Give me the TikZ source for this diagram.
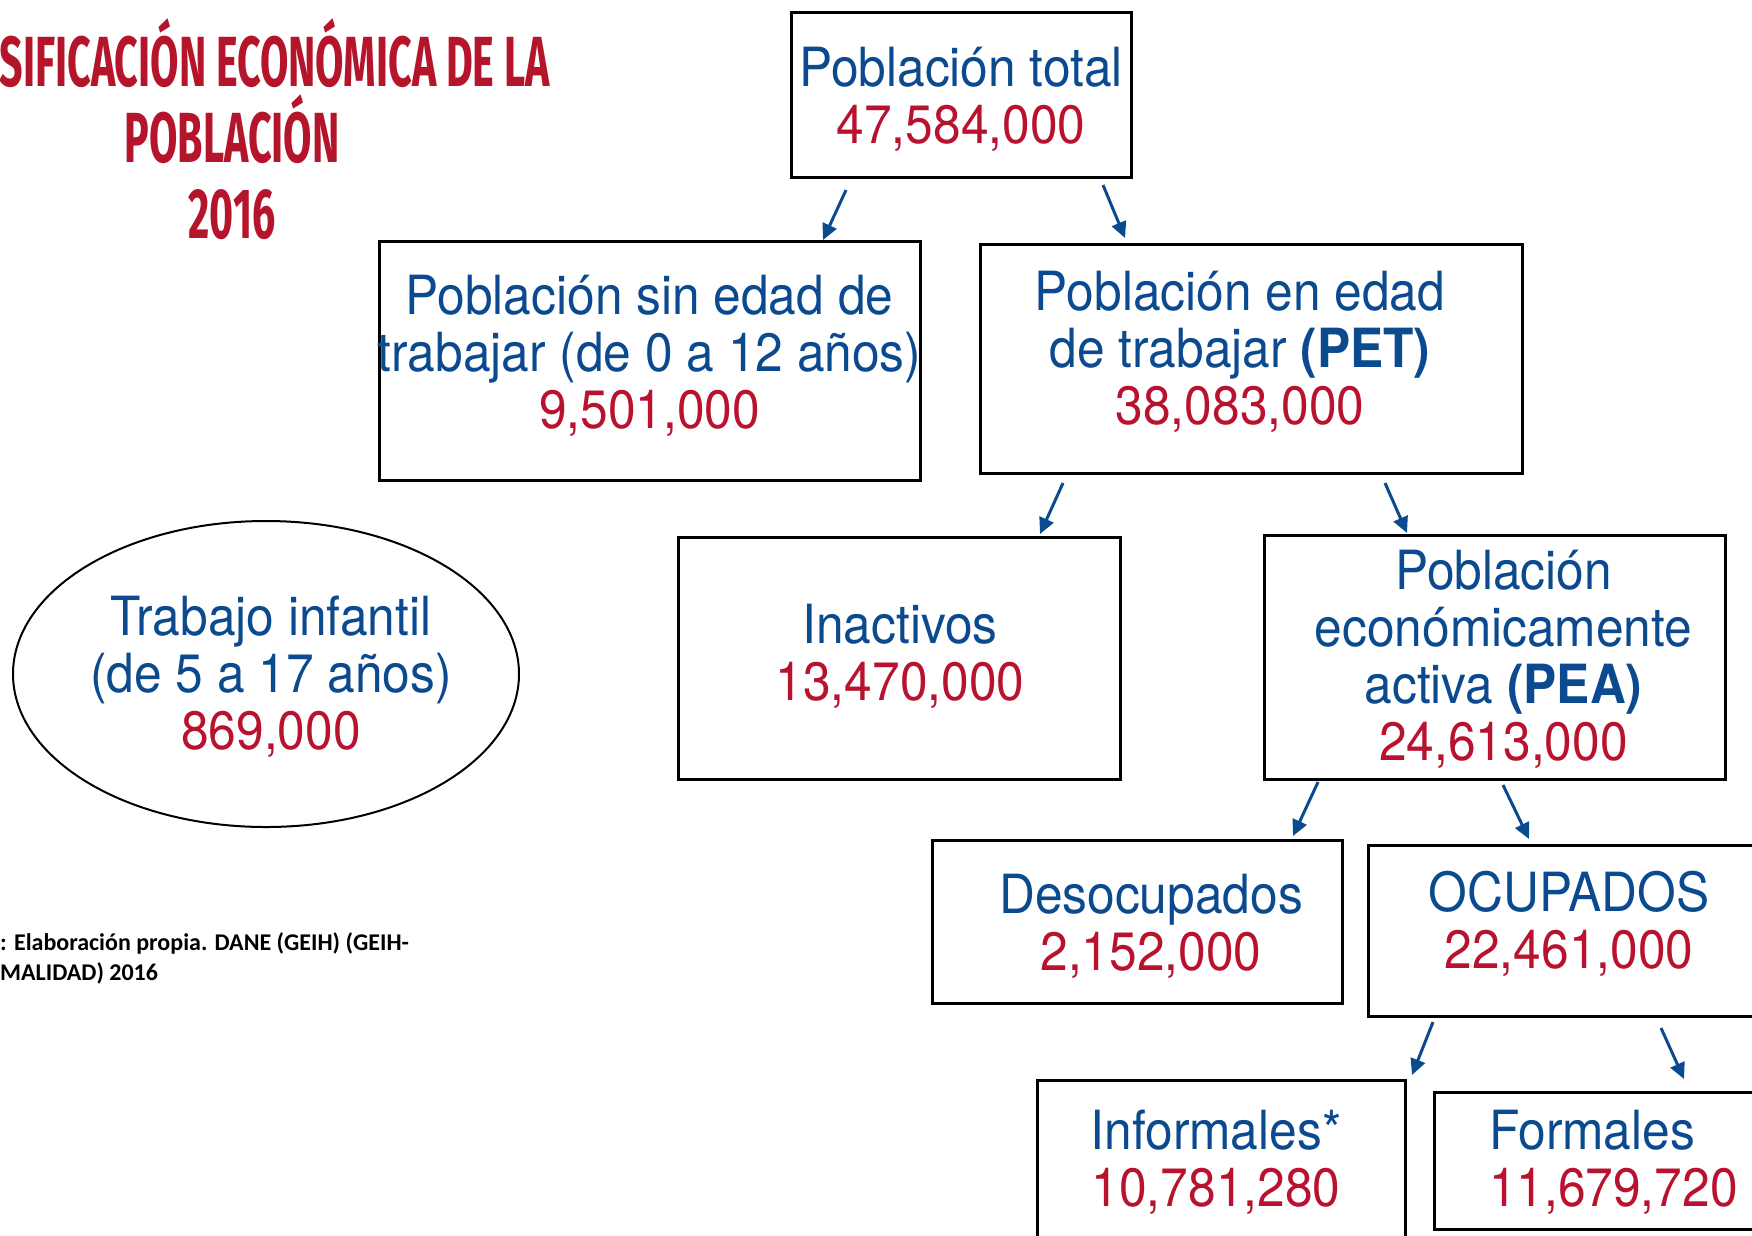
\documentclass[tikz,border=0pt]{standalone}
\usepackage{fontspec}
\setmainfont[FakeStretch=0.92]{TeX Gyre Heros}
\newfontfamily\titlefont[FakeStretch=0.58]{Fira Sans}
\newfontfamily\notefont{Carlito}
\usetikzlibrary{arrows.meta,calc,shapes.geometric}
\definecolor{nblue}{HTML}{0B4A8F}
\definecolor{nred}{HTML}{B8122E}
\definecolor{tred}{HTML}{B5152B}
\tikzset{
  caja/.style={draw=black,line width=3pt,inner sep=0pt,outer sep=0pt},
  texto/.style={inner sep=0pt,align=center,text=nblue,font=\fontsize{54}{57}\selectfont},
  flecha/.style={->,>={Triangle[length=16pt,width=15pt]},line width=3pt,draw=nblue},
  titulo/.style={anchor=base,text=tred,inner sep=0pt,font=\titlefont\bfseries\fontsize{71}{76}\selectfont},
}
\newcommand{\cifra}[1]{\textcolor{nred}{#1\strut}}

\begin{document}
\begin{tikzpicture}[x=1pt,y=-1pt]
  \useasboundingbox (0,0) rectangle (1752,1235);
  \clip (0,0) rectangle (1752,1235);
  % titulo
  \node[titulo,anchor=base east] (tit1) at (550,86) {SIFICACIÓN ECONÓMICA DE LA};
  \node[titulo] (tit2) at (232,162) {POBLACIÓN};
  \node[titulo] (tit3) at (232,238) {2016};
  % fuente
  \node[anchor=north west,inner sep=0pt,align=left,font=\notefont\bfseries\fontsize{24}{30}\selectfont] (fuente) at (0,929)
    {\strut: Elaboración propia. DANE (GEIH) (GEIH-\\MALIDAD) 2016\strut};
  % cajas
  \node[caja,minimum width=340pt,minimum height=165pt,
    label={[texto,yshift=-9pt]center:\strut Población total\\\cifra{47,584,000}}] (tot) at (961,94.5) {};
  \node[caja,minimum width=541pt,minimum height=239pt,
    label={[texto]center:\strut Población sin edad de\\trabajar (de 0 a 12 años)\\\cifra{9,501,000}}] (sin) at (649.5,360.5) {};
  \node[caja,minimum width=542pt,minimum height=229pt,
    label={[texto,xshift=-11pt,yshift=2pt]center:\strut Población en edad\\de trabajar \textbf{(PET)}\\\cifra{38,083,000}}] (pet) at (1251,358.5) {};
  \node[caja,minimum width=442pt,minimum height=242pt,
    label={[texto,xshift=1pt,yshift=-3pt]center:\strut Inactivos\\\cifra{13,470,000}}] (ina) at (899,658) {};
  \node[caja,minimum width=461pt,minimum height=244pt,
    label={[texto,xshift=9pt,yshift=-7pt]center:\strut Población\\económicamente\\activa \textbf{(PEA)}\\\cifra{24,613,000}}] (pea) at (1494.5,657) {};
  \node[caja,minimum width=410pt,minimum height=163pt,
    label={[texto,xshift=14pt,yshift=-9pt]center:\strut Desocupados\\\cifra{2,152,000}}] (des) at (1137,921.5) {};
  \node[caja,minimum width=402pt,minimum height=171pt,
    label={[texto,yshift=2pt]center:\strut OCUPADOS\\\cifra{22,461,000}}] (ocu) at (1569,930.5) {};
  \node[caja,minimum width=368pt,minimum height=170pt,
    label={[texto,xshift=-5pt,yshift=-2pt]center:\strut Informales*\\\cifra{10,781,280}}] (inf) at (1221,1165) {};
  \node[caja,minimum width=366pt,minimum height=137pt,
    label={[texto,align=left,text width=256pt,yshift=-6pt]center:\strut Formales\\\cifra{11,679,720}}] (for) at (1617,1160.5) {};
  \node[caja,ellipse,line width=2pt,minimum width=506pt,minimum height=306pt,
    label={[texto,xshift=5pt,yshift=-7pt]center:\strut Trabajo infantil\\(de 5 a 17 años)\\\cifra{869,000}}] (inf5) at (266,674) {};
  % flechas
  \draw[flecha] ($(tot.south west)+(55,13)$) -- ($(sin.north west)+(444,-1)$);
  \draw[flecha] ($(tot.south west)+(312,8)$) -- ($(pet.north west)+(145,-6)$);
  \draw[flecha] ($(pet.south west)+(83,10)$) -- ($(ina.north west)+(362,-3)$);
  \draw[flecha] ($(pet.south west)+(405,10)$) -- ($(pea.north west)+(143,-2)$);
  \draw[flecha] ($(pea.south west)+(54,3)$) -- ($(des.north west)+(361,-4)$);
  \draw[flecha] ($(pea.south west)+(239,6)$) -- ($(ocu.north west)+(161,-6)$);
  \draw[flecha] ($(ocu.south west)+(65,6)$) -- ($(inf.north west)+(375,-5)$);
  \draw[flecha] ($(ocu.south west)+(293,12)$) -- ($(for.north west)+(250,-13)$);
\end{tikzpicture}
\end{document}
